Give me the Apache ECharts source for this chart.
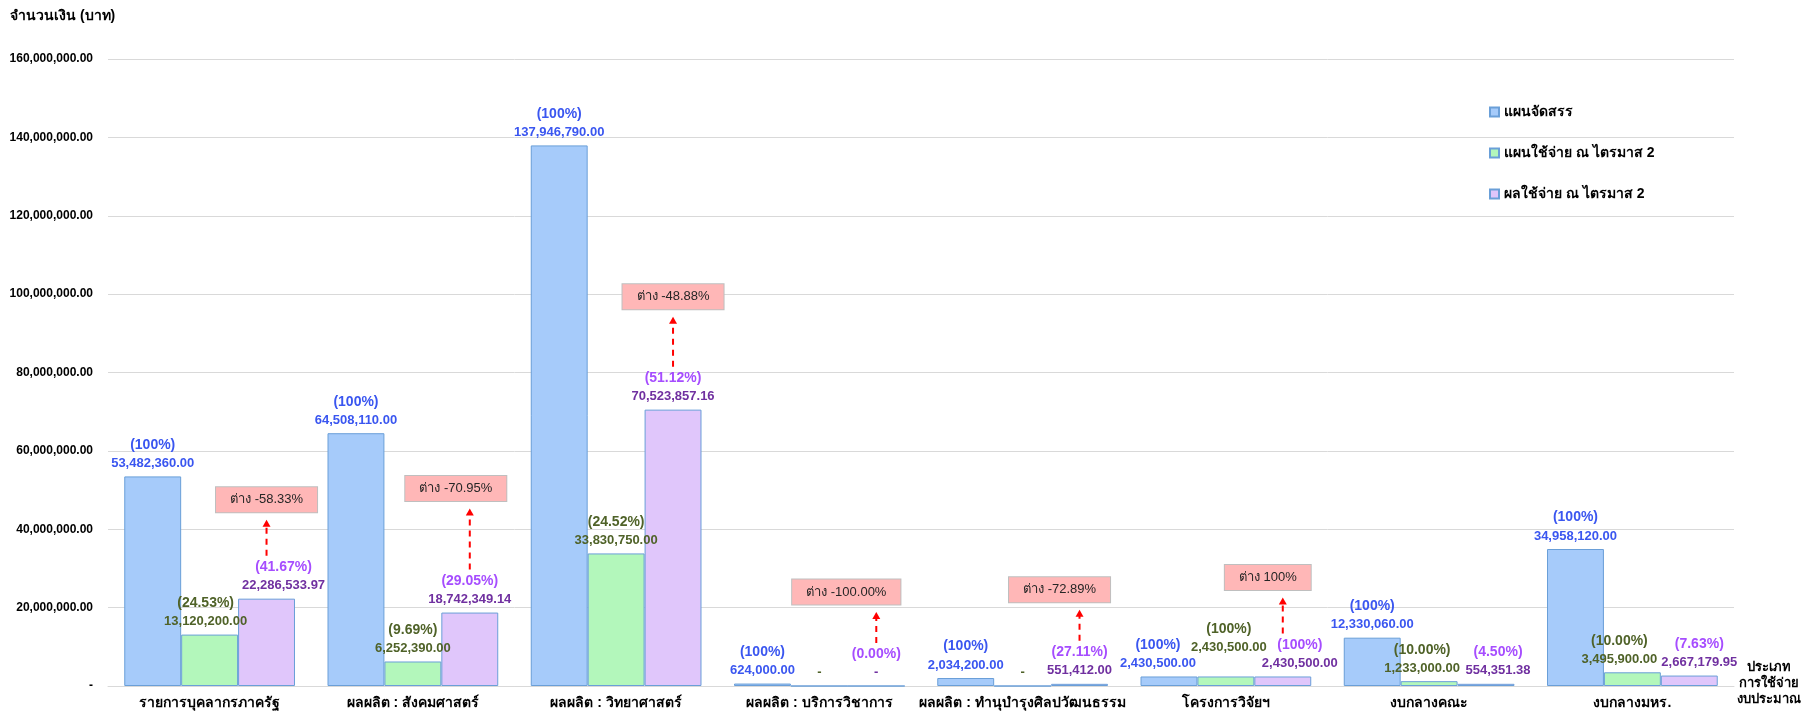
<!DOCTYPE html>
<html>
<head>
<meta charset="utf-8">
<script src="https://cdn.jsdelivr.net/npm/echarts@6/dist/echarts.min.js"></script>
<style>
html,body{margin:0;padding:0;background:#fff;}
#chart{width:1817px;height:714px;}
</style>
</head>
<body>
<div id="chart"></div>
<script>
// ---- data ----
const categories = ['รายการบุคลากรภาครัฐ','ผลผลิต : สังคมศาสตร์','ผลผลิต : วิทยาศาสตร์','ผลผลิต : บริการวิชาการ','ผลผลิต : ทำนุบำรุงศิลปวัฒนธรรม','โครงการวิจัยฯ','งบกลางคณะ','งบกลางมหร.'];
const seriesNames = ['แผนจัดสรร','แผนใช้จ่าย ณ ไตรมาส 2','ผลใช้จ่าย ณ ไตรมาส 2'];
const allocated = [53482360.00, 64508110.00, 137946790.00, 624000.00, 2034200.00, 2430500.00, 12330060.00, 34958120.00];
const planQ2 = [13120200.00, 6252390.00, 33830750.00, 0, 0, 2430500.00, 1233000.00, 3495900.00];
const actualQ2 = [22286533.97, 18742349.14, 70523857.16, 0, 551412.00, 2430500.00, 554351.38, 2667179.95];
const allocatedPct = ['100%','100%','100%','100%','100%','100%','100%','100%'];
const planPct = ['24.53%','9.69%','24.52%','','','100%','10.00%','10.00%'];
const actualPct = ['41.67%','29.05%','51.12%','0.00%','27.11%','100%','4.50%','7.63%'];
const diffLabels = ['ต่าง -58.33%','ต่าง -70.95%','ต่าง -48.88%','ต่าง -100.00%','ต่าง -72.89%','ต่าง 100%',null,null];
const yTicks = {min: 0, max: 160000000, interval: 20000000};
const yAxisName = 'จำนวนเงิน (บาท)';
const xAxisName = 'ประเภท\nการใช้จ่าย\nงบประมาณ';

// ---- layout tweaks (pixels) ----
const allocLabelOff = [[0,0],[0,0],[0,0],[0,0],[0,0],[-11,0],[0,0],[0,0]];
const planLabelOff = [[-4,0],[0,0],[0,0],[0,0],[0,0],[3,-16],[-7,0],[-13,0]];
const actualLabelOff = [[17,0],[0,0],[0,0],[0,0],[0,0],[17,0],[12,0],[10,0]];
const calloutRise = [36,61,50,31,31,36,0,0];
const calloutShift = [0,-14,0,-30,-20,-15,0,0];

const FONT = 'Tahoma, "Liberation Sans", "DejaVu Sans", "Noto Sans", sans-serif';
const fmt = v => v === 0 ? '-' : v.toLocaleString('en-US',{minimumFractionDigits:2, maximumFractionDigits:2});

function barSeries(name, values, pcts, offs, fill, pctColor, valColor){
  return {
    name, type:'bar', barGap:'0%', barCategoryGap:'16%',
    itemStyle:{color:fill, borderColor:'#6a9fd8', borderWidth:1},
    data: values.map((v,i)=>({value:v, label:{offset:offs[i]}})),
    label:{
      show:true, position:'top', distance:4,
      formatter: p => {
        const pc = pcts[p.dataIndex];
        return pc ? `{p|(${pc})}\n{v|${fmt(p.value)}}` : `{v|${fmt(p.value)}}`;
      },
      rich:{
        p:{color:pctColor, fontFamily:FONT, fontWeight:'bold', fontSize:14, lineHeight:19, align:'center'},
        v:{color:valColor, fontFamily:FONT, fontWeight:'bold', fontSize:13, lineHeight:18, align:'center'}
      }
    },
    emphasis:{disabled:true}
  };
}

const calloutData = actualQ2.map((v,i)=>[i, v, diffLabels[i]]).filter(d=>d[2]);

const option = {
  animation:false,
  textStyle:{fontFamily:FONT},
  grid:{left:108, right:83, top:59, bottom:28, containLabel:false},
  legend:{
    orient:'vertical', left:1484, top:99, itemWidth:9, itemHeight:9, itemGap:25,
    icon:'rect',
    textStyle:{fontFamily:FONT, fontWeight:'bold', fontSize:14, color:'#000', lineHeight:16},
    data: seriesNames
  },
  xAxis:{
    type:'category', data:categories,
    name:xAxisName, nameLocation:'end', nameGap:0,
    nameTextStyle:{fontFamily:FONT, fontWeight:'bold', fontSize:13, color:'#000', lineHeight:16, align:'center', verticalAlign:'top', padding:[-27,0,0,60]},
    axisLine:{lineStyle:{color:'#d9d9d9', width:1}},
    axisTick:{show:false},
    axisLabel:{fontFamily:FONT, fontWeight:'bold', fontSize:14, color:'#000', margin:10, interval:0}
  },
  yAxis:{
    type:'value', min:yTicks.min, max:yTicks.max, interval:yTicks.interval,
    name:yAxisName, nameLocation:'end', nameGap:36,
    nameTextStyle:{fontFamily:FONT, fontWeight:'bold', fontSize:14, color:'#000', align:'left', padding:[0,0,0,-98]},
    axisLine:{show:false}, axisTick:{show:false},
    splitLine:{lineStyle:{color:'#d9d9d9', width:1}},
    axisLabel:{fontFamily:FONT, fontWeight:'bold', fontSize:12, color:'#000', margin:15,
      formatter: v => fmt(v)}
  },
  series:[
    barSeries(seriesNames[0], allocated, allocatedPct, allocLabelOff, '#a6cbfa', '#3a56f0', '#3a56f0'),
    barSeries(seriesNames[1], planQ2, planPct, planLabelOff, '#b3f7bb', '#4f6228', '#4f6228'),
    barSeries(seriesNames[2], actualQ2, actualPct, actualLabelOff, '#e0c6fb', '#a64dff', '#7030a0'),
    {
      type:'custom', name:'diff', silent:true, z:10,
      data: calloutData,
      encode:{x:0, y:1},
      renderItem:(params, api)=>{
        const idx = api.value(0);
        const i = idx;
        const pt = api.coord([idx, api.value(1)]);
        const catW = api.size([1,0])[0];
        const barW = catW * 0.84 / 3;
        const x = pt[0] + barW;
        const yBottom = pt[1] - 43;
        const yTop = yBottom - calloutRise[i];
        const boxCY = yTop - 7 - 13;
        const txt = diffLabels[i];
        return {
          type:'group',
          children:[
            {type:'line', shape:{x1:x, y1:yBottom, x2:x, y2:yTop+6},
              style:{stroke:'#ff0000', lineWidth:2, lineDash:[6,5]}},
            {type:'polygon', shape:{points:[[x-4,yTop+7],[x+4,yTop+7],[x,yTop]]},
              style:{fill:'#ff0000'}},
            {type:'text', x:x + calloutShift[i], y:boxCY,
              style:{text:txt, fill:'#262626', font:'13px ' + FONT, align:'center', verticalAlign:'middle',
                backgroundColor:'#ffb7b7', borderColor:'#bfbfbf', borderWidth:1, padding:[6,14,6,14]}}
          ]
        };
      }
    }
  ]
};

const chart = echarts.init(document.getElementById('chart'), null, {renderer:'canvas'});
chart.setOption(option);
</script>
</body>
</html>
